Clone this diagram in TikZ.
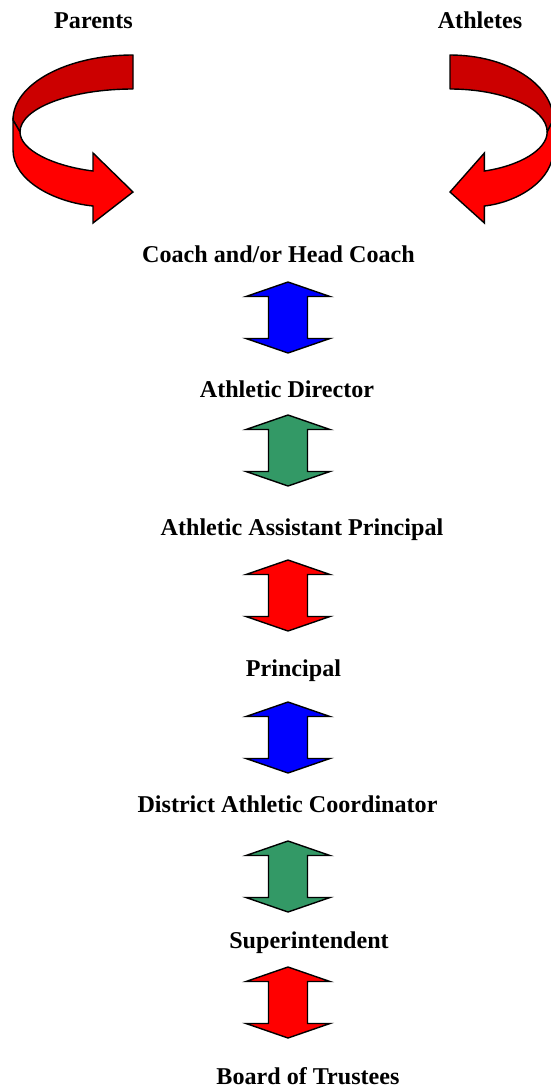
\documentclass[tikz,border=0pt]{standalone}
\usepackage{fontspec}
\setmainfont{Liberation Serif}
\usetikzlibrary{positioning}
\definecolor{ladderBlue}{RGB}{0,0,255}
\definecolor{ladderGreen}{RGB}{51,153,102}
\definecolor{ladderRed}{RGB}{255,0,0}
\definecolor{ribbonBack}{RGB}{204,0,0}
\newcommand\colorOutline{black}
\newcommand\ladderX{288}
\newcommand\ladderHalfWidth{42}
\newcommand\ladderShaftHalf{19.5}
\newcommand\ladderHead{14.5}
\newcommand\ladderShaft{42}
% up-and-down block arrow, #1 = y of the upper tip, #2 = fill colour
\newcommand\drawLadderArrow[2]{
	\draw[fill=#2, draw=\colorOutline, line width=1.4pt, line join=miter]
		(\ladderX,#1) --
		++(\ladderHalfWidth,\ladderHead) --
		++(-\ladderHalfWidth+\ladderShaftHalf,0) --
		++(0,\ladderShaft) --
		++(\ladderHalfWidth-\ladderShaftHalf,0) --
		++(-\ladderHalfWidth,\ladderHead) --
		++(-\ladderHalfWidth,-\ladderHead) --
		++(\ladderHalfWidth-\ladderShaftHalf,0) --
		++(0,-\ladderShaft) --
		++(-\ladderHalfWidth+\ladderShaftHalf,0) --
		cycle;
}
% curved ribbon arrow, tail end at x=0
\newcommand\drawRibbonArrow{
	\draw[fill=ribbonBack, draw=\colorOutline, line width=1.4pt, line join=round]
		(0,55) .. controls (-66.3,55) and (-120,84.1) .. (-120,120) --
		(-113,132) .. controls (-113,108.3) and (-62.4,89) .. (0,89) --
		cycle;
	\draw[fill=ladderRed, draw=\colorOutline, line width=1.4pt, line join=miter]
		(-120,120) -- (-120,150) .. controls (-120,180) and (-80,202) .. (-40,206) --
		(-40,223) -- (0,192) -- (-40,153) -- (-40,171)
		.. controls (-80,166) and (-113,150) .. (-113,132) --
		cycle;
}
\tikzset{
	rung/.style={font=\bfseries\fontsize{24.2}{28}\selectfont, anchor=base, inner sep=0pt}
}

\begin{document}
\begin{tikzpicture}[x=1bp, y=-1bp]
		\useasboundingbox[fill=white] (0,0) rectangle (551,1089);
		
		\begin{scope}[shift={(133,0)}]
			\drawRibbonArrow
		\end{scope}
		\begin{scope}[shift={(450,0)}, xscale=-0.86]
			\drawRibbonArrow
		\end{scope}
		
		\node[rung] (parents) at (93.5,28) {Parents};
		\node[rung] (athletes) at (480,28) {Athletes};
		\node[rung] (coach) at (278.5,262) {Coach and/or Head Coach};
		\node[rung] (director) at (287,397) {Athletic Director};
		\node[rung] (assistant) at (302,535) {Athletic Assistant Principal};
		\node[rung] (principal) at (293.5,676) {Principal};
		\node[rung] (district) at (287.5,812) {District Athletic Coordinator};
		\node[rung] (superintendent) at (309,948) {Superintendent};
		\node[rung] (board) at (308,1084) {Board of Trustees};
		
		\drawLadderArrow{282}{ladderBlue}
		\drawLadderArrow{415}{ladderGreen}
		\drawLadderArrow{560}{ladderRed}
		\drawLadderArrow{702}{ladderBlue}
		\drawLadderArrow{841}{ladderGreen}
		\drawLadderArrow{967}{ladderRed}
	\end{tikzpicture}
\end{document}
